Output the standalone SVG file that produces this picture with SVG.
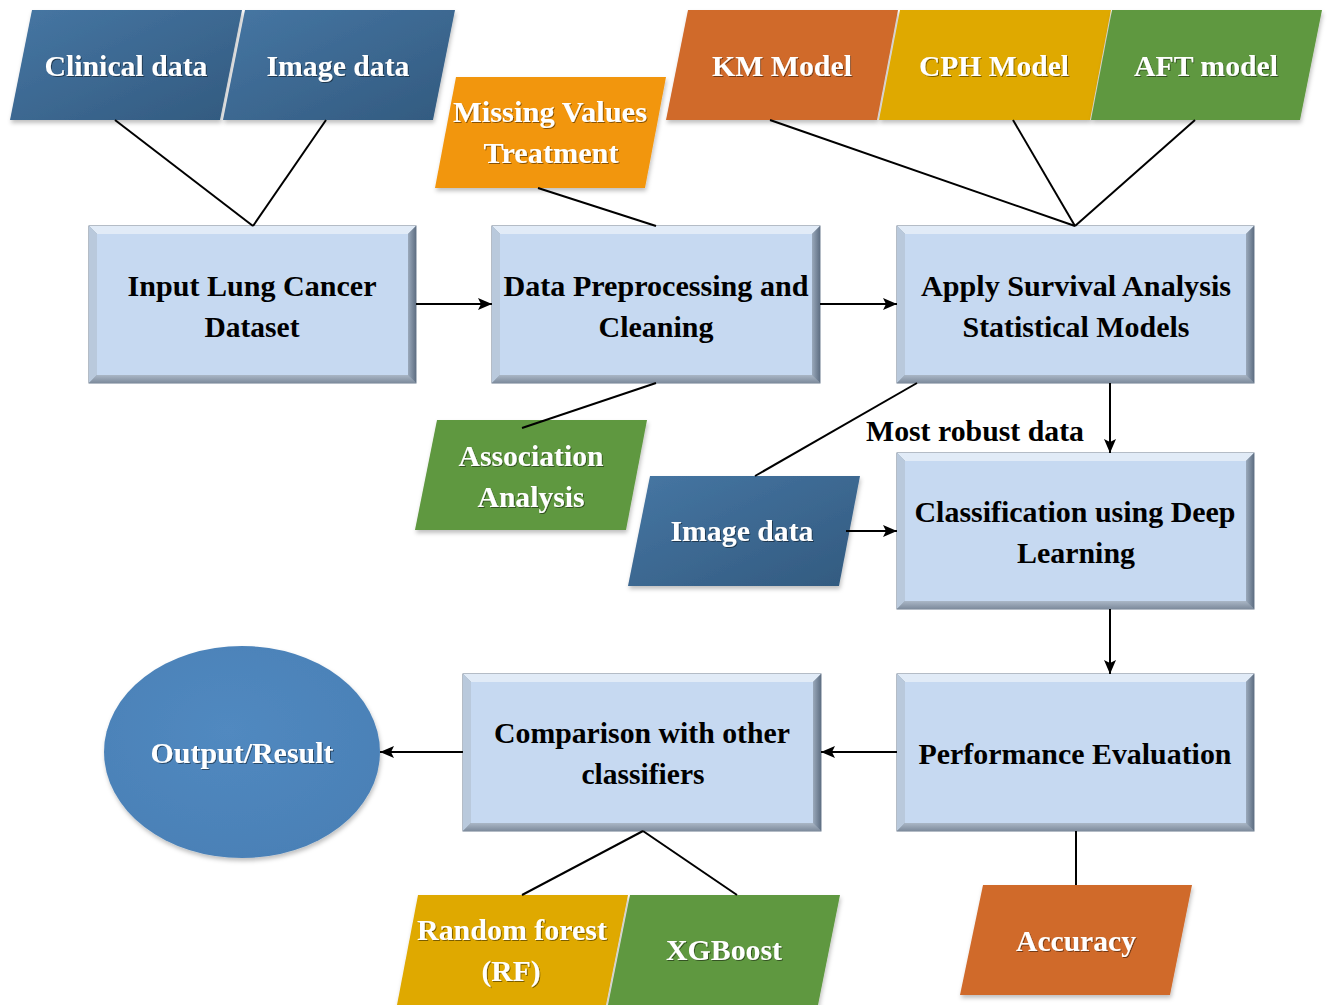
<svg xmlns="http://www.w3.org/2000/svg" width="1330" height="1005" viewBox="0 0 1330 1005">
<defs>
<linearGradient id="gBlue" x1="0" y1="0" x2="1" y2="1">
<stop offset="0" stop-color="#4676a3"/><stop offset="1" stop-color="#325a7f"/>
</linearGradient>
<linearGradient id="gRight" x1="0" y1="0" x2="1" y2="0">
<stop offset="0" stop-color="#9aa9bb"/><stop offset="1" stop-color="#5f6f83"/>
</linearGradient>
<linearGradient id="gBottom" x1="0" y1="0" x2="0" y2="1">
<stop offset="0" stop-color="#aab7c6"/><stop offset="1" stop-color="#7d8b9c"/>
</linearGradient>
<radialGradient id="gEll" cx="0.45" cy="0.4" r="0.65">
<stop offset="0" stop-color="#5189c0"/><stop offset="1" stop-color="#4a80b6"/>
</radialGradient>
<filter id="sh" x="-10%" y="-10%" width="125%" height="130%">
<feDropShadow dx="1" dy="3" stdDeviation="2" flood-color="#000" flood-opacity="0.25"/>
</filter>
<filter id="tsh" x="-5%" y="-20%" width="110%" height="140%">
<feDropShadow dx="1" dy="1" stdDeviation="0.6" flood-color="#000" flood-opacity="0.45"/>
</filter>
<marker id="arr" viewBox="0 0 14 12" refX="14" refY="6" markerWidth="14" markerHeight="12" markerUnits="userSpaceOnUse" orient="auto">
<path d="M0,0 L14,6 L0,12 L3,6 z" fill="#000"/>
</marker>
</defs>
<style>
text{font-family:"Liberation Serif","Times New Roman",serif;font-weight:bold;font-size:30px;text-anchor:middle}
.w{fill:#fff;filter:url(#tsh)}
.k{fill:#000}
.edge{fill:#8d9cae;stroke:#6a7a8d;stroke-width:1}
.bt{fill:#e1ebf7}
.bl{fill:#b9c9dc}
.br{fill:url(#gRight)}
.bb{fill:url(#gBottom)}
.in{fill:#c6d9f1}
.pb{fill:url(#gBlue);filter:url(#sh)}
.po{fill:#d06b2c;filter:url(#sh)}
.py{fill:#dfa901;filter:url(#sh)}
.pg{fill:#5f983f;filter:url(#sh)}
.pm{fill:#f2960f;filter:url(#sh)}
.ln{stroke:#000;stroke-width:2;fill:none}
.ar{stroke:#000;stroke-width:2;fill:none;marker-end:url(#arr)}
</style>
<rect width="1330" height="1005" fill="#fff"/>

<g id="clinical">
<polygon class="pb" points="32,10 242,10 220,120 10,120"/>
<text class="w" x="126" y="76" textLength="163" lengthAdjust="spacingAndGlyphs">Clinical data</text>
</g>
<g id="image-top">
<polygon class="pb" points="245,10 455,10 433,120 223,120"/>
<text class="w" x="338" y="76" textLength="143" lengthAdjust="spacingAndGlyphs">Image data</text>
</g>
<g id="km">
<polygon class="po" points="688,10 898,10 877,120 666,120"/>
<text class="w" x="782" y="76" textLength="140" lengthAdjust="spacingAndGlyphs">KM Model</text>
</g>
<g id="cph">
<polygon class="py" points="900,10 1111,10 1090,120 879,120"/>
<text class="w" x="994" y="76" textLength="150" lengthAdjust="spacingAndGlyphs">CPH Model</text>
</g>
<g id="aft">
<polygon class="pg" points="1112,10 1322,10 1300,120 1091,120"/>
<text class="w" x="1206" y="76" textLength="144" lengthAdjust="spacingAndGlyphs">AFT model</text>
</g>
<g id="missing">
<polygon class="pm" points="456,77 666,77 645,188 435,188"/>
<text class="w" x="550" y="122" textLength="194" lengthAdjust="spacingAndGlyphs">Missing Values</text>
<text class="w" x="551" y="163" textLength="135" lengthAdjust="spacingAndGlyphs">Treatment</text>
</g>

<g id="input">
<rect class="edge" x="89" y="226" width="327" height="157"/>
<polygon class="bt" points="89,226 416,226 408,234 97,234"/>
<polygon class="bl" points="89,226 97,234 97,375 89,383"/>
<polygon class="br" points="416,226 416,383 408,375 408,234"/>
<polygon class="bb" points="89,383 416,383 408,375 97,375"/>
<rect class="in" x="97" y="234" width="311" height="141"/>
<text class="k" x="252" y="296" textLength="249" lengthAdjust="spacingAndGlyphs">Input Lung Cancer</text>
<text class="k" x="252" y="337" textLength="95" lengthAdjust="spacingAndGlyphs">Dataset</text>
</g>
<g id="preprocess">
<rect class="edge" x="492" y="226" width="328" height="157"/>
<polygon class="bt" points="492,226 820,226 812,234 500,234"/>
<polygon class="bl" points="492,226 500,234 500,375 492,383"/>
<polygon class="br" points="820,226 820,383 812,375 812,234"/>
<polygon class="bb" points="492,383 820,383 812,375 500,375"/>
<rect class="in" x="500" y="234" width="312" height="141"/>
<text class="k" x="656" y="296" textLength="305" lengthAdjust="spacingAndGlyphs">Data Preprocessing and</text>
<text class="k" x="656" y="337" textLength="115" lengthAdjust="spacingAndGlyphs">Cleaning</text>
</g>
<g id="survival">
<rect class="edge" x="897" y="226" width="357" height="157"/>
<polygon class="bt" points="897,226 1254,226 1246,234 905,234"/>
<polygon class="bl" points="897,226 905,234 905,375 897,383"/>
<polygon class="br" points="1254,226 1254,383 1246,375 1246,234"/>
<polygon class="bb" points="897,383 1254,383 1246,375 905,375"/>
<rect class="in" x="905" y="234" width="341" height="141"/>
<text class="k" x="1076" y="296" textLength="310" lengthAdjust="spacingAndGlyphs">Apply Survival Analysis</text>
<text class="k" x="1076" y="337" textLength="227" lengthAdjust="spacingAndGlyphs">Statistical Models</text>
</g>
<g id="association">
<polygon class="pg" points="437,420 647,420 626,530 415,530"/>
<text class="w" x="531" y="466" textLength="145" lengthAdjust="spacingAndGlyphs">Association</text>
<text class="w" x="531" y="507" textLength="107" lengthAdjust="spacingAndGlyphs">Analysis</text>
</g>
<g id="image-mid">
<polygon class="pb" points="650,476 860,476 839,586 628,586"/>
<text class="w" x="742" y="541" textLength="143" lengthAdjust="spacingAndGlyphs">Image data</text>
</g>
<g id="classification">
<rect class="edge" x="897" y="453" width="357" height="156"/>
<polygon class="bt" points="897,453 1254,453 1246,461 905,461"/>
<polygon class="bl" points="897,453 905,461 905,601 897,609"/>
<polygon class="br" points="1254,453 1254,609 1246,601 1246,461"/>
<polygon class="bb" points="897,609 1254,609 1246,601 905,601"/>
<rect class="in" x="905" y="461" width="341" height="140"/>
<text class="k" x="1075" y="522" textLength="321" lengthAdjust="spacingAndGlyphs">Classification using Deep</text>
<text class="k" x="1076" y="563" textLength="118" lengthAdjust="spacingAndGlyphs">Learning</text>
</g>
<g id="performance">
<rect class="edge" x="897" y="674" width="357" height="157"/>
<polygon class="bt" points="897,674 1254,674 1246,682 905,682"/>
<polygon class="bl" points="897,674 905,682 905,823 897,831"/>
<polygon class="br" points="1254,674 1254,831 1246,823 1246,682"/>
<polygon class="bb" points="897,831 1254,831 1246,823 905,823"/>
<rect class="in" x="905" y="682" width="341" height="141"/>
<text class="k" x="1075" y="764" textLength="313" lengthAdjust="spacingAndGlyphs">Performance Evaluation</text>
</g>
<g id="comparison">
<rect class="edge" x="463" y="674" width="358" height="157"/>
<polygon class="bt" points="463,674 821,674 813,682 471,682"/>
<polygon class="bl" points="463,674 471,682 471,823 463,831"/>
<polygon class="br" points="821,674 821,831 813,823 813,682"/>
<polygon class="bb" points="463,831 821,831 813,823 471,823"/>
<rect class="in" x="471" y="682" width="342" height="141"/>
<text class="k" x="642" y="743" textLength="296" lengthAdjust="spacingAndGlyphs">Comparison with other</text>
<text class="k" x="643" y="784" textLength="123" lengthAdjust="spacingAndGlyphs">classifiers</text>
</g>
<g id="output">
<ellipse cx="242" cy="752" rx="138" ry="106" fill="url(#gEll)" filter="url(#sh)"/>
<text class="w" x="242" y="763" textLength="183" lengthAdjust="spacingAndGlyphs">Output/Result</text>
</g>
<g id="rf">
<polygon class="py" points="418,895 628,895 606,1005 397,1005"/>
<text class="w" x="512" y="940" textLength="190" lengthAdjust="spacingAndGlyphs">Random forest</text>
<text class="w" x="511" y="981" textLength="59" lengthAdjust="spacingAndGlyphs">(RF)</text>
</g>
<g id="xgb">
<polygon class="pg" points="630,895 840,895 818,1005 608,1005"/>
<text class="w" x="724" y="960" textLength="116" lengthAdjust="spacingAndGlyphs">XGBoost</text>
</g>
<g id="accuracy">
<polygon class="po" points="983,885 1192,885 1170,995 960,995"/>
<text class="w" x="1076" y="951" textLength="120" lengthAdjust="spacingAndGlyphs">Accuracy</text>
</g>

<g id="connectors">
<line class="ln" x1="115" y1="120" x2="253" y2="226"/>
<line class="ln" x1="326" y1="120" x2="253" y2="226"/>
<line class="ln" x1="538" y1="188" x2="656" y2="226"/>
<line class="ln" x1="656" y1="383" x2="522" y2="428"/>
<line class="ln" x1="770" y1="120" x2="1075" y2="226"/>
<line class="ln" x1="1013" y1="120" x2="1075" y2="226"/>
<line class="ln" x1="1195" y1="120" x2="1075" y2="226"/>
<line class="ln" x1="917" y1="383" x2="755" y2="476"/>
<line class="ln" x1="643" y1="831" x2="522" y2="895"/>
<line class="ln" x1="643" y1="831" x2="737" y2="895"/>
<line class="ln" x1="1076" y1="831" x2="1076" y2="885"/>
<line class="ar" x1="416" y1="304" x2="492" y2="304"/>
<line class="ar" x1="820" y1="304" x2="897" y2="304"/>
<line class="ar" x1="1110" y1="383" x2="1110" y2="453"/>
<line class="ar" x1="846" y1="531" x2="897" y2="531"/>
<line class="ar" x1="1110" y1="609" x2="1110" y2="674"/>
<line class="ar" x1="897" y1="752" x2="821" y2="752"/>
<line class="ar" x1="463" y1="752" x2="380" y2="752"/>
<text class="k" x="975" y="441" textLength="218" lengthAdjust="spacingAndGlyphs">Most robust data</text>
</g>
</svg>
